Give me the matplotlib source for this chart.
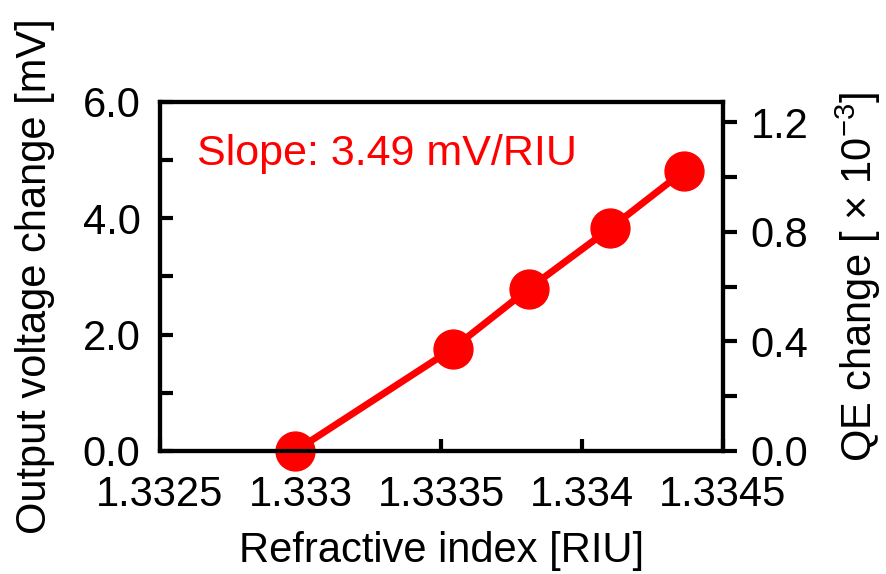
import matplotlib
matplotlib.use("Agg")
import matplotlib.pyplot as plt
from matplotlib.ticker import MultipleLocator, FixedLocator

plt.rcParams['font.family'] = ['Liberation Sans', 'DejaVu Sans']
plt.rcParams['mathtext.fontset'] = 'custom'
plt.rcParams['mathtext.rm'] = 'Liberation Sans'
plt.rcParams['mathtext.it'] = 'Liberation Sans'
plt.rcParams['mathtext.sf'] = 'Liberation Sans'

# измерения: показатель преломления -> изменение выходного напряжения
refractive_index = [1.33298, 1.33354, 1.33381, 1.33410, 1.33436]
voltage_change = [0.0, 1.76, 2.79, 3.83, 4.81]

x_ticks = [1.3325, 1.333, 1.3335, 1.334, 1.3345]
x_tick_labels = ['1.3325', '1.333', '1.3335', '1.334', '1.3345']
qe_ticks = [0.0, 0.4, 0.8, 1.2]

red = '#ff0000'
fs = 30

fig = plt.figure(figsize=(8.86, 5.74), dpi=100)
ax = fig.add_axes([0.1806, 0.2143, 0.6354, 0.6080])

ax.plot(refractive_index, voltage_change, color=red, lw=5,
        marker='o', markersize=28, zorder=3, clip_on=False)

ax.set_xlim(1.3325, 1.3345)
ax.set_ylim(0, 6.0)
ax.xaxis.set_major_locator(FixedLocator(x_ticks))
ax.set_xticklabels(x_tick_labels)
ax.yaxis.set_major_locator(MultipleLocator(2.0))
ax.yaxis.set_minor_locator(MultipleLocator(1.0))
ax.yaxis.set_major_formatter(matplotlib.ticker.FormatStrFormatter('%.1f'))

ax.tick_params(axis='both', which='both', direction='in', width=3,
               length=9, labelsize=fs, top=False, right=False)
ax.tick_params(axis='x', pad=17)
ax.tick_params(axis='y', pad=14)
for s in ax.spines.values():
    s.set_linewidth(3)

ax.set_xlabel('Refractive index [RIU]', fontsize=fs, labelpad=12)
ax.set_ylabel('Output voltage change [mV]', fontsize=fs, labelpad=20)

ax.text(1.33263, 5.1, 'Slope: 3.49 mV/RIU', color=red, fontsize=31,
        ha='left', va='center')

# правая ось: изменение квантовой эффективности
ax2 = ax.twinx()
ax2.set_ylim(0, 1.273)
ax2.yaxis.set_major_locator(FixedLocator(qe_ticks))
ax2.yaxis.set_minor_locator(MultipleLocator(0.2))
ax2.yaxis.set_major_formatter(matplotlib.ticker.FormatStrFormatter('%.1f'))
ax2.tick_params(axis='y', which='both', direction='out', width=3,
                length=10, labelsize=fs, pad=10)
for s in ax2.spines.values():
    s.set_linewidth(3)
ax2.set_ylabel(r'QE change [ $\times$ 10$^{-3}$]', fontsize=fs, labelpad=18)

fig.savefig('out.png', dpi=100)
